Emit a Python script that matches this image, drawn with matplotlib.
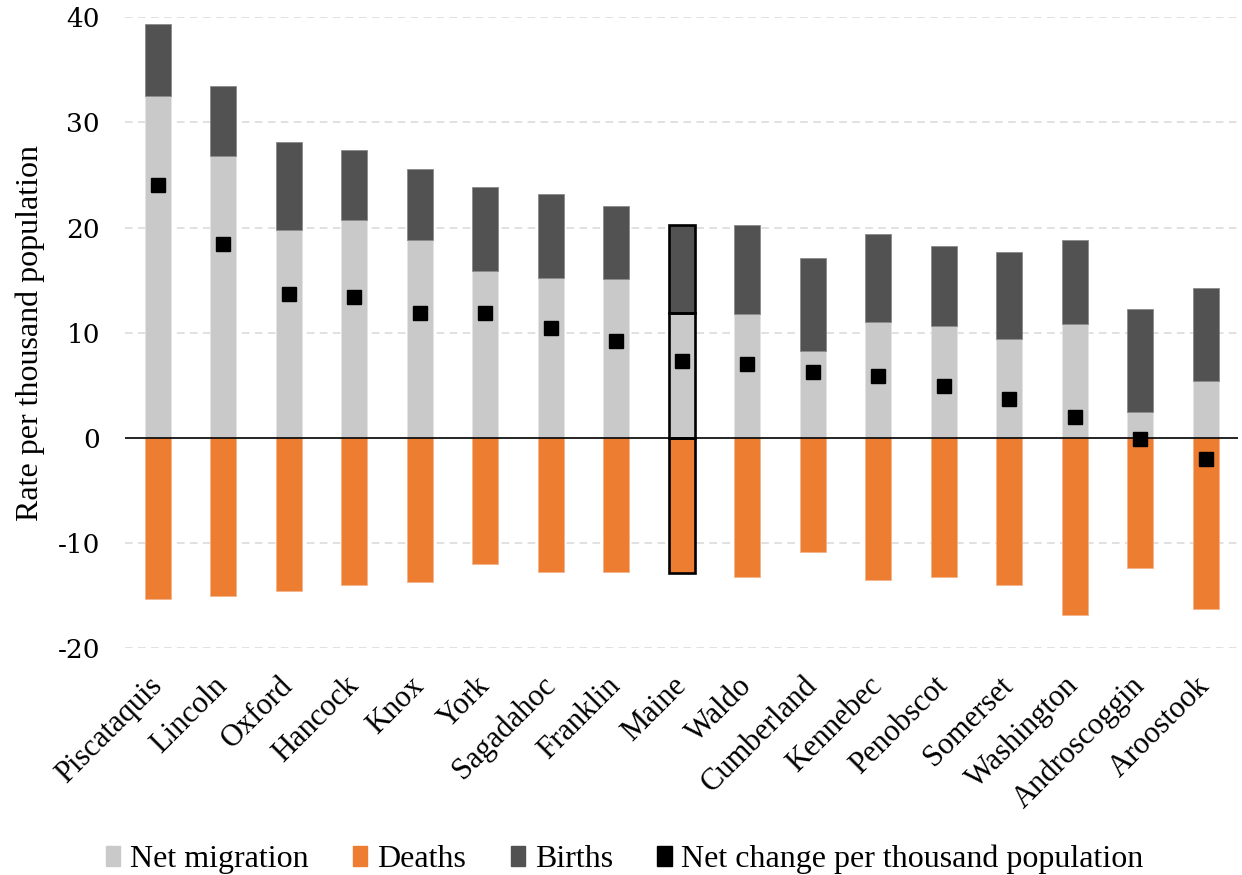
import matplotlib
matplotlib.use("Agg")
import matplotlib.pyplot as plt
from matplotlib.patches import Patch
import numpy as np

# Components of population change, rate per thousand population
counties = ["Piscataquis", "Lincoln", "Oxford", "Hancock", "Knox", "York",
            "Sagadahoc", "Franklin", "Maine", "Waldo", "Cumberland", "Kennebec",
            "Penobscot", "Somerset", "Washington", "Androscoggin", "Aroostook"]
net_migration = [32.5, 26.85, 19.8, 20.74, 18.84, 15.83, 15.23, 15.13, 11.87,
                 11.8, 8.22, 11.01, 10.66, 9.36, 10.85, 2.46, 5.43]
births = [6.9, 6.6, 8.35, 6.62, 6.75, 8.01, 7.98, 6.9, 8.33,
          8.4, 8.91, 8.4, 7.57, 8.27, 7.99, 9.79, 8.78]
deaths = [-15.35, -15.04, -14.53, -13.96, -13.7, -12.0, -12.76, -12.79, -12.9,
          -13.2, -10.91, -13.55, -13.29, -13.96, -16.9, -12.4, -16.24]
net_change = [24.05, 18.4, 13.65, 13.4, 11.9, 11.85, 10.45, 9.25, 7.3,
              7.0, 6.22, 5.88, 4.96, 3.68, 1.95, -0.14, -2.03]

c_mig = "#c9c9c9"
c_death = "#ed7d31"
c_birth = "#525252"

serif = ["Liberation Serif", "DejaVu Serif"]

fig = plt.figure(figsize=(12.42, 8.75), dpi=100)
ax = fig.add_axes([0.1006, 0.2594, 0.8965, 0.7208])

x = np.arange(len(counties))
w = 0.4
edge = dict(linewidth=0.6)

ax.bar(x, net_migration, w, color=c_mig, edgecolor="#e4e4e4", zorder=2, **edge)
ax.bar(x, births, w, bottom=net_migration, color=c_birth, edgecolor="#8a8a8a",
       zorder=2, **edge)
ax.bar(x, deaths, w, color=c_death, edgecolor="#f6b48a", zorder=2, **edge)

# statewide total gets a black outline
i = counties.index("Maine")
for bottom, h in [(0, net_migration[i]), (net_migration[i], births[i]), (0, deaths[i])]:
    ax.bar(x[i], h, w, bottom=bottom, facecolor="none", edgecolor="black",
           linewidth=1.9, zorder=3)

ax.plot(x, net_change, linestyle="none", marker="s", markersize=10.5,
        color="black", zorder=4)

ax.set_xlim(-0.5, len(counties) - 0.5)
ax.set_ylim(-20, 40)
ax.set_yticks(range(-20, 41, 10))
for val in range(-20, 41, 10):
    if val != 0:
        ax.axhline(val, color="#d9d9d9", linewidth=1.1, linestyle=(0, (5, 3.5)), zorder=1)
ax.axhline(0, color="black", linewidth=1.2, zorder=3)

for s in ax.spines.values():
    s.set_visible(False)
ax.tick_params(axis="both", length=0)
ax.tick_params(axis="y", pad=18)
ax.set_yticklabels([str(v) for v in range(-20, 41, 10)], family="DejaVu Serif",
                   fontsize=19)
ax.set_xticks(x)
ax.set_xticklabels(counties, rotation=45, ha="right", va="center",
                   rotation_mode="anchor", family=serif, fontsize=22)
ax.tick_params(axis="x", pad=24)

ax.set_ylabel("Rate per thousand population", family=serif, fontsize=23)
ax.yaxis.set_label_coords(-0.072, 0.5)

handles = [Patch(color=c_mig), Patch(color=c_death), Patch(color=c_birth),
           Patch(color="black")]
labels = ["Net migration", "Deaths", "Births", "Net change per thousand population"]
fig.legend(handles, labels, loc="center", bbox_to_anchor=(0.503, 0.018), ncol=4,
           frameon=False, prop={"family": serif, "size": 23},
           handlelength=0.45, handleheight=0.6, handletextpad=0.3,
           columnspacing=1.4)

fig.savefig("out.png", dpi=100)
